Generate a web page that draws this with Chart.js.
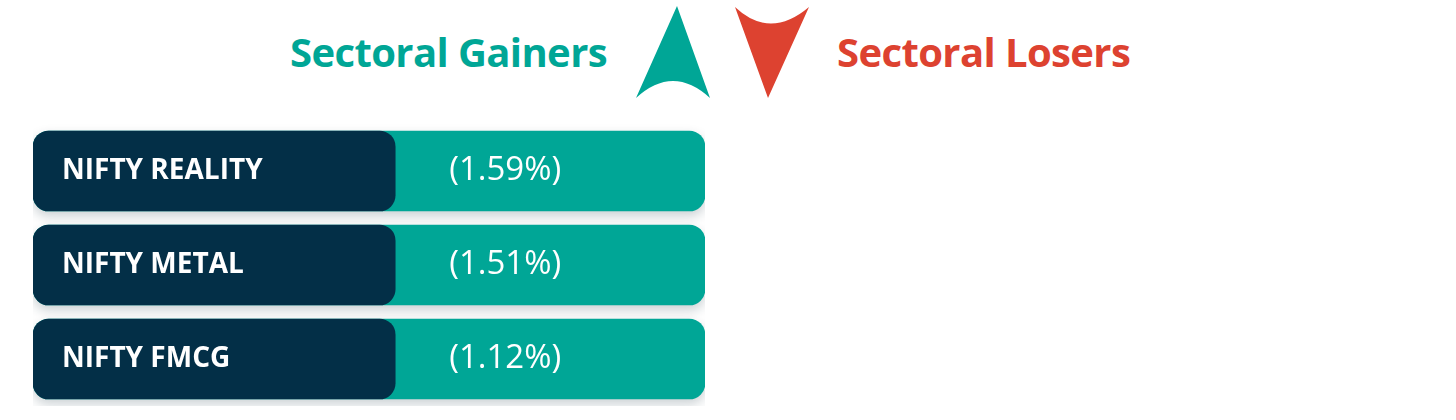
<!DOCTYPE html>
<html lang="en">

<head>
    <meta charset="UTF-8">
    <meta name="viewport" content="width=device-width, initial-scale=1.0">
    <script src="https://cdn.jsdelivr.net/npm/chart.js@4.4.0/dist/chart.umd.min.js"></script>
    <style>
        body { margin: 0; background: #fff; }
        #wrap { position: relative; width: 1456px; height: 420px; overflow: hidden; }
        #chart-box { position: absolute; left: 0; top: 0; width: 1456px; height: 420px; }
        .title { position: absolute; top: 32px; font-family: 'Open Sans', sans-serif; font-weight: 700;
            font-size: 40px; line-height: 40px; white-space: nowrap; letter-spacing: -0.6px; }
        #gainers { left: 290px; color: #00a696; }
        #losers { left: 837px; color: #dd4230; }
        #arrows { position: absolute; left: 0; top: 0; }
    </style>
</head>

<body>
    <div id="wrap">
        <div class="title" id="gainers">Sectoral Gainers</div>
        <div class="title" id="losers">Sectoral Losers</div>
        <svg id="arrows" width="1456" height="110">
            <path d="M677 6 L710 98 Q673 64 636 98 Z" fill="#00a696"></path>
            <path d="M735 7 Q770 40 809 7 L768 98 Z" fill="#dd4230"></path>
        </svg>
        <div id="chart-box"><canvas id="myChart"></canvas></div>
    </div>

    <script>
        // gainers
        const sectors = ['NIFTY REALITY', 'NIFTY METAL', 'NIFTY FMCG'];
        const changes = [1.59, 1.51, 1.12];

        const navy = '#032f47';
        const teal = '#00a696';

        // soft shadow under the teal bars
        const shadowPlugin = {
            id: 'shadow',
            beforeDatasetDraw(chart, args) {
                if (args.index !== 1) return;
                const c = chart.ctx;
                c.save();
                c.shadowColor = 'rgba(20, 45, 60, 0.22)';
                c.shadowBlur = 12;
                c.shadowOffsetY = 5;
            },
            afterDatasetDraw(chart, args) {
                if (args.index !== 1) return;
                chart.ctx.restore();
            }
        };

        const textPlugin = {
            id: 'barText',
            afterDatasetsDraw(chart) {
                const c = chart.ctx;
                const yScale = chart.scales.y;
                const bars = chart.getDatasetMeta(0).data;
                c.save();
                c.fillStyle = '#fff';
                c.textBaseline = 'middle';
                sectors.forEach((name, i) => {
                    const y = yScale.getPixelForValue(i);
                    c.font = '700 28px "Open Sans"';
                    c.fillText(name, bars[i].base + 29, y);
                    c.font = '400 33px "Open Sans"';
                    c.fillText('(' + changes[i].toFixed(2) + '%)', bars[i].x + 54, y);
                });
                c.restore();
            }
        };

        new Chart(document.getElementById('myChart'), {
            type: 'bar',
            data: {
                labels: sectors,
                datasets: [{
                        label: 'name',
                        data: sectors.map(() => 0.539),
                        backgroundColor: navy,
                    },
                    {
                        label: 'change',
                        data: sectors.map(() => 1),
                        backgroundColor: teal,
                    }
                ]
            },
            options: {
                indexAxis: 'y',
                responsive: true,
                maintainAspectRatio: false,
                animation: false,
                layout: { padding: { left: 33, right: 751, top: 124, bottom: 14 } },
                datasets: {
                    bar: {
                        grouped: false,
                        barThickness: 80,
                        borderRadius: 16,
                        borderSkipped: false
                    }
                },
                scales: {
                    x: { display: false, min: 0, max: 1 },
                    y: { display: false }
                },
                plugins: {
                    legend: { display: false },
                    tooltip: { enabled: false }
                }
            },
            plugins: [shadowPlugin, textPlugin]
        });
    </script>
</body>

</html>
